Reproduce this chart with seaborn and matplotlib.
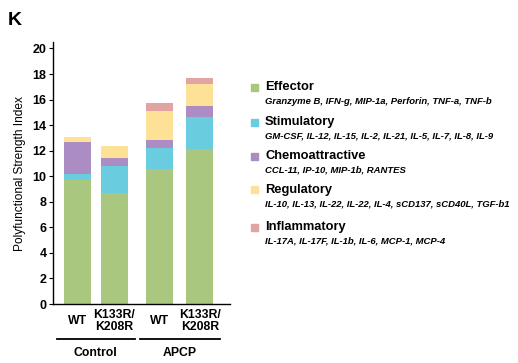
import matplotlib
matplotlib.use("Agg")
import matplotlib.pyplot as plt
from matplotlib.patches import Rectangle
import pandas as pd
import seaborn as sns

# data
groups = ["Control", "Control", "APCP", "APCP"]
genotypes = ["WT", "K133R/\nK208R", "WT", "K133R/\nK208R"]
effector = [9.7, 8.7, 10.6, 12.1]
stimulatory = [0.5, 2.1, 1.6, 2.5]
chemoattractive = [2.5, 0.6, 0.6, 0.9]
regulatory = [0.4, 1.0, 2.3, 1.7]
inflammatory = [0.0, 0.0, 0.6, 0.5]

categories = ["Effector", "Stimulatory", "Chemoattractive", "Regulatory", "Inflammatory"]
members = ["Granzyme B, IFN-g, MIP-1a, Perforin, TNF-a, TNF-b",
           "GM-CSF, IL-12, IL-15, IL-2, IL-21, IL-5, IL-7, IL-8, IL-9",
           "CCL-11, IP-10, MIP-1b, RANTES",
           "IL-10, IL-13, IL-22, IL-22, IL-4, sCD137, sCD40L, TGF-b1",
           "IL-17A, IL-17F, IL-1b, IL-6, MCP-1, MCP-4"]
colors = ["#a9c77e", "#6accdf", "#ab8dc3", "#fce196", "#e2a3a3"]

# bar layout (x positions of the four bars)
xpos = [0, 1, 2.23, 3.31]

plt.rcParams['font.family'] = ['Liberation Sans', 'DejaVu Sans']
fig = plt.figure(figsize=(5.18, 3.63), dpi=100)
ax = fig.add_axes([0.102, 0.1625, 0.342, 0.7215])

df = pd.DataFrame({"x": xpos, "Effector": effector, "Stimulatory": stimulatory,
                   "Chemoattractive": chemoattractive, "Regulatory": regulatory,
                   "Inflammatory": inflammatory})
cum = df[categories].cumsum(axis=1)

# stacked bars: draw cumulative totals from top category down
for cat, col in reversed(list(zip(categories, colors))):
    sns.barplot(x=df["x"], y=cum[cat], native_scale=True, width=0.73,
                color=col, saturation=1, linewidth=0, ax=ax)

ax.set_xlim(-0.66, 4.12)
ax.set_ylim(0, 20.5)
ax.set_yticks(range(0, 21, 2))
ax.tick_params(axis='y', labelsize=9, length=3, width=0.8, pad=1.5)
for t in ax.get_yticklabels():
    t.set_fontweight('bold')
ax.set_xticks(xpos)
ax.set_xticklabels(genotypes, fontsize=8.8, fontweight='bold', linespacing=1.0,
                   va='center')
ax.tick_params(axis='x', length=0, pad=12.5)
ax.set_xlabel("")
ax.set_ylabel("Polyfunctional Strength Index", fontsize=8.6, labelpad=5)
for s in ["top", "right"]:
    ax.spines[s].set_visible(False)
ax.spines["left"].set_linewidth(1.0)
ax.spines["bottom"].set_linewidth(1.0)

# group underlines and labels
trans = ax.get_xaxis_transform()
for name, (a, b) in [("Control", (xpos[0], xpos[1])), ("APCP", (xpos[2], xpos[3]))]:
    ax.plot([a - 0.55, b + 0.55], [-0.133, -0.133], color="black", lw=1.3,
            transform=trans, clip_on=False)
    ax.text((a + b) / 2, -0.163, name, transform=trans, ha="center", va="top",
            fontsize=8.8, fontweight="bold")

# panel letter
fig.text(0.014, 0.968, "K", fontsize=14, fontweight="bold", va="top")

# legend drawn as text blocks
title_y = [87, 122, 156, 190, 227]
for cat, mem, col, ty in zip(categories, members, colors, title_y):
    yf = 1 - ty / 363
    fig.patches.append(Rectangle((251 / 518, yf - 3.5 / 363), 7 / 518, 7 / 363,
                                 transform=fig.transFigure, color=col))
    fig.text(265 / 518, yf, cat, fontsize=9.3, fontweight="bold", va="center")
    fig.text(265 / 518, yf - 14 / 363, mem, fontsize=6.8, fontweight="bold",
             style="italic", va="center")

fig.savefig("out.png", dpi=100)
